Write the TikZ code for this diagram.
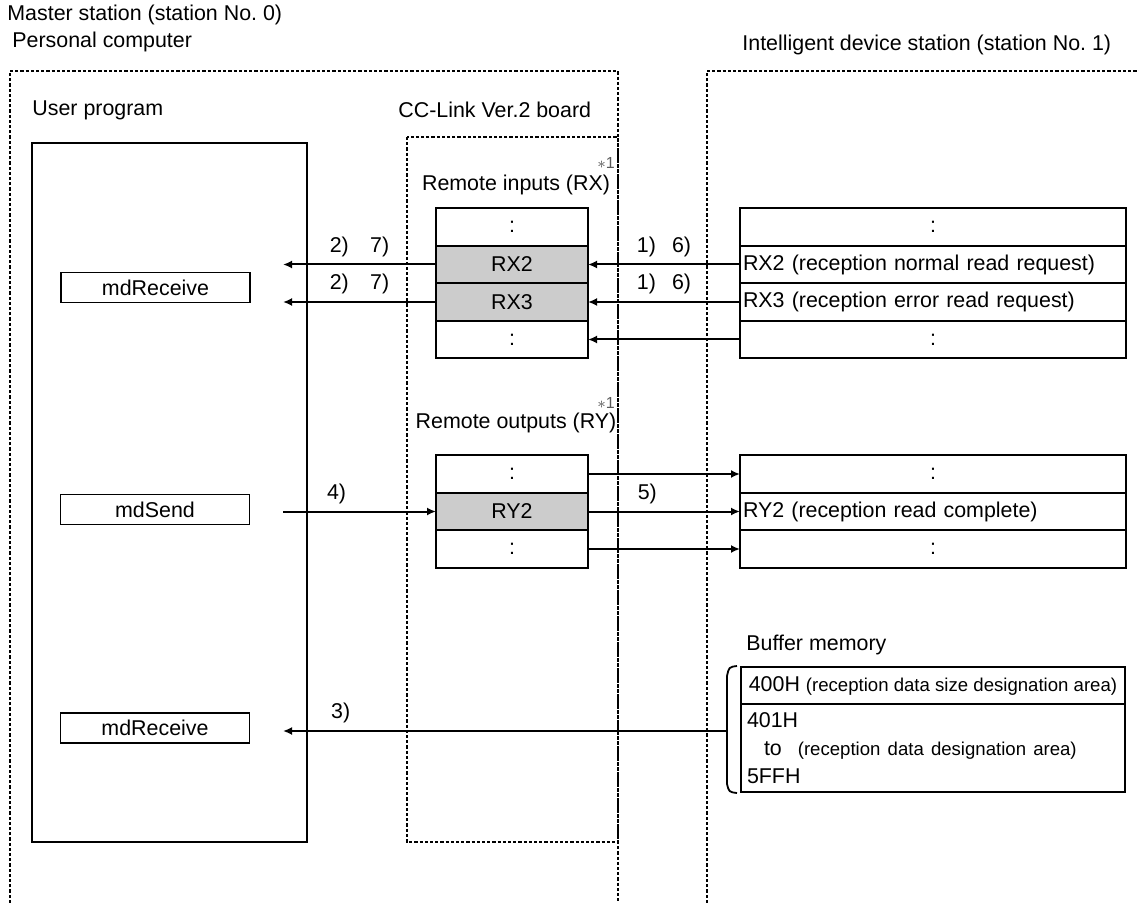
\documentclass[tikz,border=0pt]{standalone}
\usepackage{fontspec}
\setmainfont{Liberation Sans}
\usetikzlibrary{arrows.meta, positioning}

\newcommand{\areafont}{\fontsize{9.3}{11}\selectfont}

\begin{document}
\begin{tikzpicture}[
    x=0.5pt, y=-0.5pt,
    node distance=0pt,
    every node/.style={font=\fontsize{10.7}{13}\selectfont},
    title/.style={anchor=west, inner sep=0pt},
    cell/.style={rectangle, draw=black, line width=0.9pt, minimum width=76pt, minimum height=18.75pt, inner sep=0pt, outer sep=0pt},
    oncell/.style={cell, fill=black!20},
    wcell/.style={cell, minimum width=193pt},
    lcell/.style={wcell, text width=190pt, align=left, inner xsep=1.5pt},
    bufcell/.style={cell, minimum width=192pt, minimum height=18.5pt},
    fbox/.style={rectangle, draw=black, line width=0.9pt, minimum width=94.5pt, minimum height=15pt, inner sep=0pt},
    progbox/.style={rectangle, draw=black, line width=0.8pt, minimum width=137.5pt, minimum height=349.5pt, inner sep=0pt},
    note/.style={font=\fontsize{8}{9}\selectfont, text=black!65, inner sep=0pt},
    dotline/.style={line width=1.2pt, dash pattern=on 1.6pt off 1pt},
    arrow/.style={-{Latex[length=4.5pt,width=4pt]}, line width=1pt}
]
\useasboundingbox (0,0) rectangle (1139,903);

% TITLES
\node[title] (master) at (7,15) {Master station (station No.\ 0)};
\node[title] (pc) at (12,42) {Personal computer};
\node[title] (ids) at (742,45) {Intelligent device station (station No.\ 1)};
\node[title] (uptitle) at (32,110) {User program};
\node[title] (boardtitle) at (398,110) {CC-Link Ver.2 board};

% FRAMES
\draw[dotline] (10,903) -- (10,71) -- (618,71) -- (618,903);
\draw[dotline] (407,137) rectangle (618,842);
\draw[dotline] (707,903) -- (707,71) -- (1139,71);

% USER PROGRAM
\node[progbox] (userprog) at (169.5,492.5) {};
\node[fbox] (recv1) at (155.5,287.5) {mdReceive};
\node[fbox] (send) at (155,509.5) {mdSend};
\node[fbox] (recv2) at (155,728) {mdReceive};

% REMOTE INPUTS
\node (rxtitle) at (516,185) {Remote inputs (RX)};
\node[note] (rxnote) at (606,163) {$\ast$1};
\node[cell] (rx1) at (512,227) {:};
\node[oncell, below=of rx1] (rx2) {RX2};
\node[oncell, below=of rx2] (rx3) {RX3};
\node[cell, below=of rx3] (rx4) {:};

\node[wcell] (irx1) at (933,227) {:};
\node[lcell, below=of irx1] (irx2) {RX2 (reception normal read request)};
\node[lcell, below=of irx2] (irx3) {RX3 (reception error read request)};
\node[wcell, below=of irx3] (irx4) {:};

% REMOTE OUTPUTS
\node (rytitle) at (516,423) {Remote outputs (RY)};
\node[note] (rynote) at (606,403) {$\ast$1};
\node[cell] (ry1) at (512,474) {:};
\node[oncell, below=of ry1] (ry2) {RY2};
\node[cell, below=of ry2] (ry3) {:};

\node[wcell] (iry1) at (933,474) {:};
\node[lcell, below=of iry1] (iry2) {RY2 (reception read complete)};
\node[wcell, below=of iry2] (iry3) {:};

% BUFFER MEMORY
\node[title] (buftitle) at (746,645) {Buffer memory};
\node[bufcell] (buf1) at (933,685.5) {400H {\areafont(reception data size designation area)}};
\node[bufcell, below=of buf1, minimum height=44pt, text width=186pt, align=left, inner xsep=3pt,
      font=\fontsize{10.7}{14}\selectfont] (buf2)
      {401H\\\hspace{8.5pt}to\hspace{8pt}{\areafont(reception data designation area)}\\5FFH};
\draw[line width=0.9pt] (737,666) .. controls (729,667) .. (727,676) -- (727,784) .. controls (729,792) .. (737,793);
\coordinate (bufmid) at (727,731);

% ARROWS
\coordinate (uptip) at (283,0);
\draw[arrow] (irx2.west) -- node[above]{1)\hspace{0.75em}6)} (rx2.east);
\draw[arrow] (irx3.west) -- node[above]{1)\hspace{0.75em}6)} (rx3.east);
\draw[arrow] (irx4.west) -- (rx4.east);
\draw[arrow] (rx2.west) -- node[above]{2)\hspace{1em}7)} (rx2.west -| uptip);
\draw[arrow] (rx3.west) -- node[above]{2)\hspace{1em}7)} (rx3.west -| uptip);
\draw[arrow] (ry2.west -| uptip) -- node[above, pos=0.35]{4)} (ry2.west);
\draw[arrow] (ry1.east) -- (iry1.west);
\draw[arrow] (ry2.east) -- node[above, pos=0.39]{5)} (iry2.west);
\draw[arrow] (ry3.east) -- (iry3.west);
\draw[arrow] (bufmid) -- node[above, pos=0.87]{3)} (bufmid -| uptip);

\end{tikzpicture}
\end{document}
